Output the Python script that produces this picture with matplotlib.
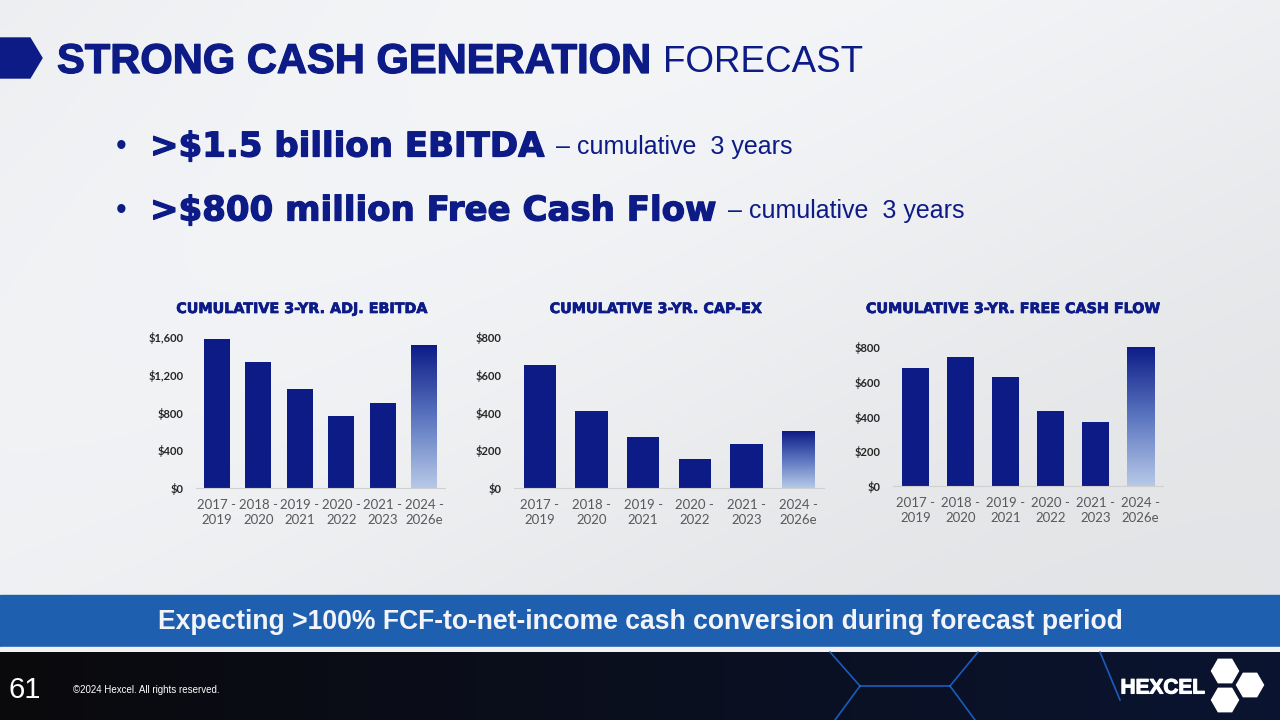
import numpy as np
import matplotlib.pyplot as plt
import matplotlib.patheffects as pe
from matplotlib.patches import Polygon, Rectangle, RegularPolygon
from matplotlib.colors import LinearSegmentedColormap

# data (cumulative 3-year totals, $M)
periods = ["2017 -\n2019", "2018 -\n2020", "2019 -\n2021",
           "2020 -\n2022", "2021 -\n2023", "2024 -\n2026e"]
ebitda = [1580, 1330, 1045, 765, 900, 1510]
capex = [650, 410, 272, 152, 232, 300]
fcf = [677, 740, 625, 433, 369, 800]

ebitda_ticks = [0, 400, 800, 1200, 1600]
capex_ticks = [0, 200, 400, 600, 800]
fcf_ticks = [0, 200, 400, 600, 800]

chart_titles = ["CUMULATIVE 3-YR. ADJ. EBITDA",
                "CUMULATIVE 3-YR. CAP-EX",
                "CUMULATIVE 3-YR. FREE CASH FLOW"]

NAVY = "#0d1b87"
BAND = "#1f5fb0"
W, H = 1280, 720

fig = plt.figure(figsize=(12.8, 7.2), dpi=100)

# background layer in pixel coords
bg = fig.add_axes([0, 0, 1, 1])
bg.axis("off")

yy, xx = np.mgrid[0:1:200j, 0:1:360j]
shade = 0.93 + 0.025 * np.sin(3.0 * xx + 2.0 * yy) + 0.015 * (1 - yy)
shade = np.clip(shade, 0, 1)
bg.imshow(np.dstack([shade * 0.985, shade * 0.99, shade]), extent=[0, W, 595, 0],
          aspect="auto", zorder=0)

heavy = [pe.withStroke(linewidth=0.9, foreground=NAVY)]

# title arrow
bg.add_patch(Polygon([(0, 38), (30, 38), (42, 58), (30, 78), (0, 78)],
                     closed=True, color=NAVY, zorder=2))
t = bg.text(57, 62, "STRONG CASH GENERATION", fontsize=30, fontweight="heavy",
            family="Liberation Sans", color=NAVY, va="center", ha="left",
            path_effects=heavy)
bg.annotate("FORECAST", xycoords=t, xy=(1, 0.5), xytext=(9, 0),
            textcoords="offset points", fontsize=26.5, family="Liberation Sans",
            color=NAVY, va="center", ha="left")

# bullets
for y, bold, rest in [(147, ">$1.5 billion EBITDA", " – cumulative  3 years"),
                      (211, ">$800 million Free Cash Flow", " – cumulative  3 years")]:
    bg.text(116, y, "•", fontsize=22, color=NAVY, va="center", ha="left",
            family="Liberation Sans")
    bt = bg.text(150, y, bold, fontsize=24.5, fontweight="bold", color=NAVY,
                 va="center", ha="left", family="DejaVu Sans", path_effects=heavy)
    bg.annotate(rest, xycoords=bt, xy=(1, 0.5), xytext=(3, 0),
                textcoords="offset points", va="center", ha="left",
                fontsize=18, color=NAVY, family="Liberation Sans")

# bottom band
bg.add_patch(Rectangle((0, 595), W, 52, color=BAND, zorder=2))
bg.add_patch(Rectangle((0, 647), W, 5, color="#f2f2f2", zorder=2))
bg.text(640, 622, "Expecting >100% FCF-to-net-income cash conversion during forecast period",
        fontsize=19.1, fontweight="bold", color="#f2f4f8", ha="center", va="center",
        family="Liberation Sans", zorder=3)

# footer
foot = np.linspace(0, 1, 256)
foot_img = np.dstack([0.04 + 0.0 * foot, 0.04 + 0.04 * foot, 0.05 + 0.14 * foot])
bg.imshow(foot_img.repeat(2, axis=0), extent=[0, W, H, 652],
          aspect="auto", zorder=2)
for seg in [[(830, 652), (860, 686)], [(860, 686), (950, 686)], [(950, 686), (978, 652)],
            [(860, 686), (835, 720)], [(950, 686), (975, 720)], [(1100, 652), (1120, 700)]]:
    (x0, y0), (x1, y1) = seg
    bg.plot([x0, x1], [y0, y1], color="#1e6fe0", lw=1.2, alpha=0.8, zorder=3)
bg.text(9, 690, "61", fontsize=21, color="white", va="center", ha="left",
        family="Liberation Sans", zorder=4)
bg.text(73, 690, "©2024 Hexcel. All rights reserved.", fontsize=7, color="white",
        va="center", ha="left", family="Liberation Sans", zorder=4)
bg.text(1205, 688, "HEXCEL", fontsize=15, fontweight="bold", color="white",
        va="center", ha="right", family="Liberation Sans", zorder=4,
        path_effects=[pe.withStroke(linewidth=0.8, foreground="white")])
for cx, cy in [(1225, 671), (1250, 685), (1225, 700)]:
    bg.add_patch(RegularPolygon((cx, cy), numVertices=6, radius=13.5,
                                orientation=np.pi / 6, color="white", zorder=4))
bg.set_xlim(0, W)
bg.set_ylim(H, 0)

# gradient colormap for the forecast bar
grad = LinearSegmentedColormap.from_list("fc", [NAVY, "#5a75bf", "#b7c9e8"])


def draw_chart(rect, values, ticks, title, title_x):
    ax = fig.add_axes(rect)
    ax.patch.set_alpha(0)
    x = np.arange(len(values))
    bars = ax.bar(x, values, width=0.62, color=NAVY, zorder=2)
    last = bars[-1]
    last.set_facecolor("none")
    img = np.linspace(0, 1, 256).reshape(-1, 1)
    bx, bw, bh = last.get_x(), last.get_width(), last.get_height()
    im = ax.imshow(img, cmap=grad, extent=[bx, bx + bw, 0, bh], aspect="auto",
                   origin="upper", zorder=2)
    im.set_clip_path(last)
    ax.set_xlim(-0.5, len(values) - 0.5)
    ax.set_ylim(0, ticks[-1])
    ax.set_yticks(ticks)
    ax.set_yticklabels([f"${v:,}" for v in ticks], fontsize=8, fontweight="bold",
                       color="#262626", family="Lato")
    ax.set_xticks(x)
    ax.set_xticklabels(periods, fontsize=9.5, color="#595959", family="Lato",
                       linespacing=1.25)
    ax.tick_params(axis="both", length=0)
    ax.tick_params(axis="y", pad=9)
    ax.tick_params(axis="x", pad=8)
    for s in ["top", "right", "left"]:
        ax.spines[s].set_visible(False)
    ax.spines["bottom"].set_color("#d0d0d0")
    bg.text(title_x, 309, title, fontsize=10.3, fontweight="bold", color=NAVY,
            ha="center", va="center", family="DejaVu Sans",
            path_effects=[pe.withStroke(linewidth=0.5, foreground=NAVY)])
    return ax


draw_chart([196 / W, (H - 488) / H, 249 / W, 151 / H], ebitda, ebitda_ticks,
           chart_titles[0], 301)
draw_chart([514 / W, (H - 488) / H, 310 / W, 151 / H], capex, capex_ticks,
           chart_titles[1], 655)
draw_chart([893 / W, (H - 486) / H, 270 / W, 139 / H], fcf, fcf_ticks,
           chart_titles[2], 1012)

fig.savefig("out.png", dpi=100)
